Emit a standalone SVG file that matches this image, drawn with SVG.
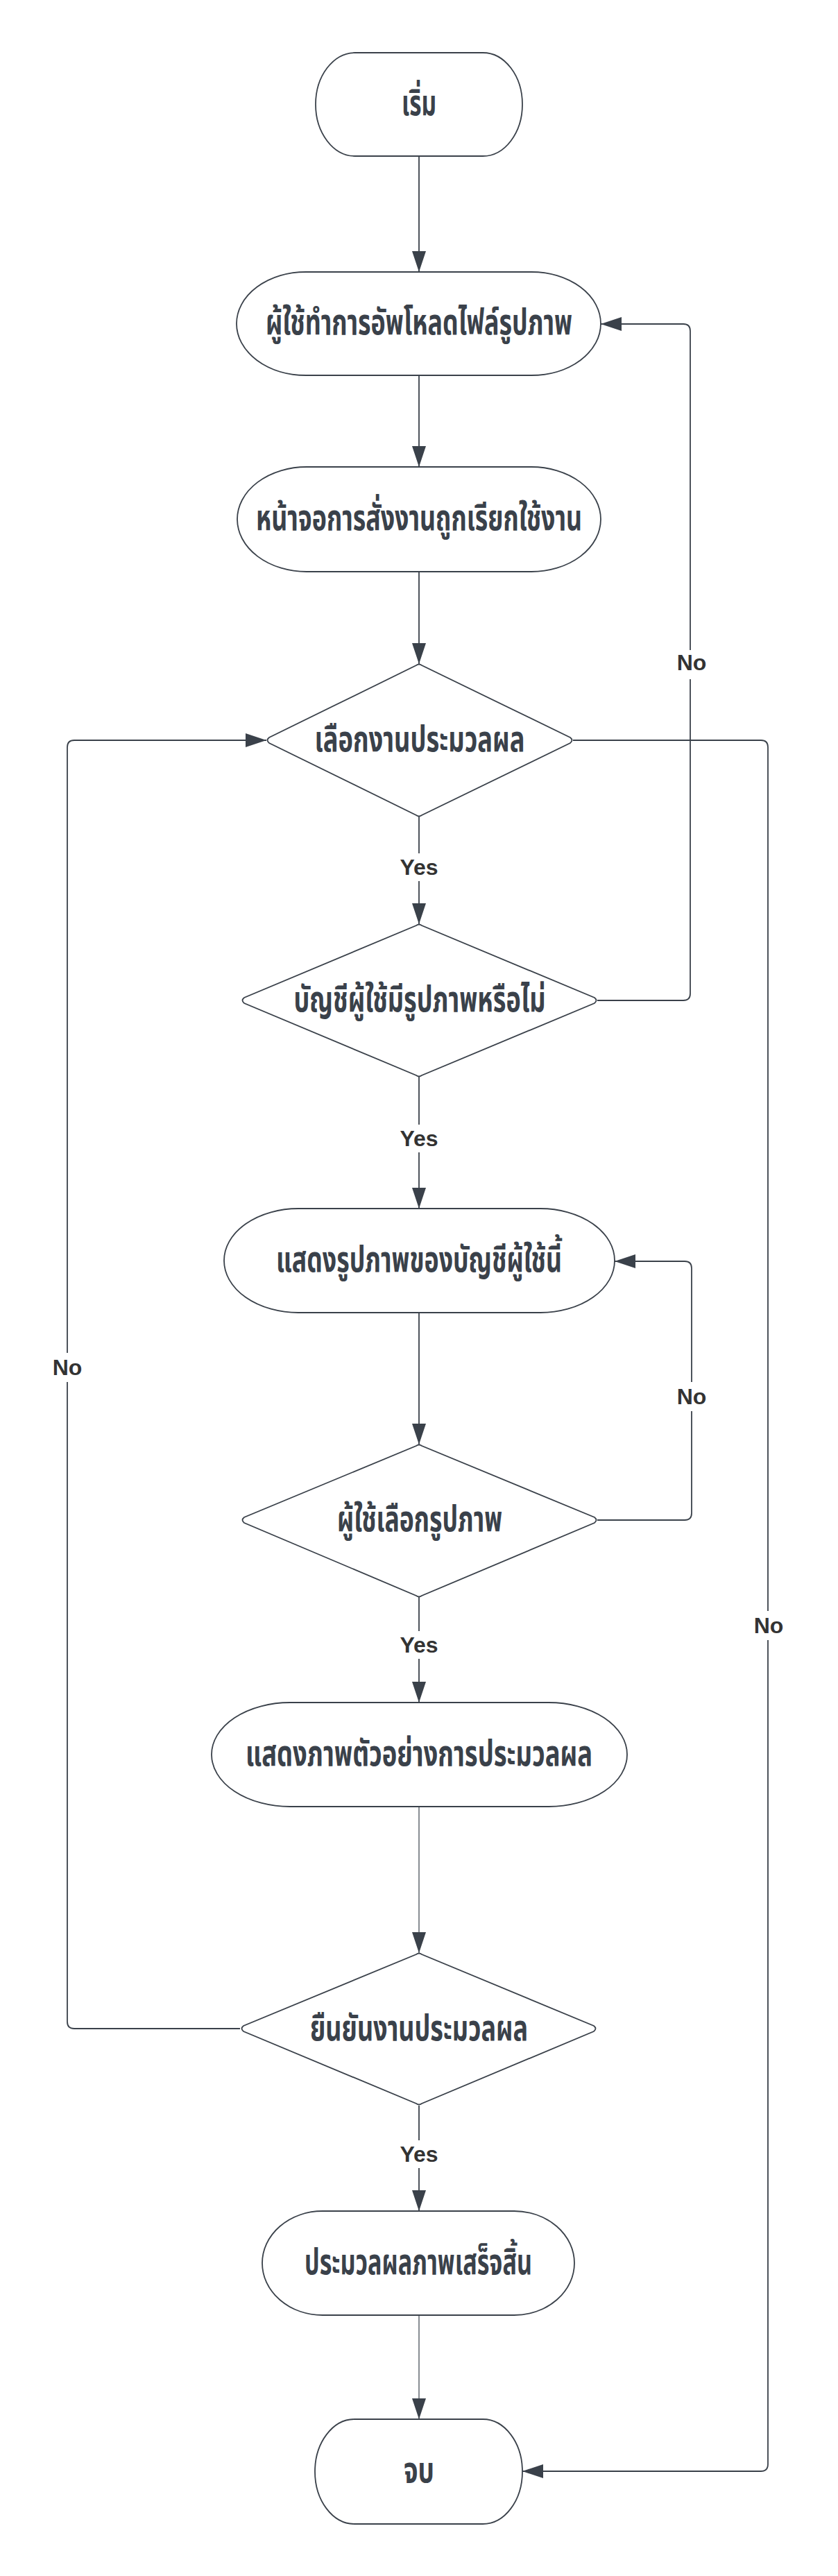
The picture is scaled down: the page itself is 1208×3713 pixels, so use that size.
<svg xmlns="http://www.w3.org/2000/svg" width="1208" height="3713" viewBox="0 0 1208 3713">
<style>
.n{fill:#ffffff;stroke:#3a414a;stroke-width:1.8}
.t{font-family:'Noto Sans Thai','Noto Sans Thai UI','Noto Sans',sans-serif;font-weight:700;font-size:52px;fill:#3a414a;text-anchor:middle}
.c{fill:none;stroke:#3a414a;stroke-width:1.8}
.thin{stroke-width:1.2}
.lb{fill:#ffffff;stroke:none}
.l{font-family:'Liberation Sans',Arial,sans-serif;font-weight:700;font-size:32px;fill:#333333;text-anchor:middle}
</style>
<defs>
<marker id="ah" markerUnits="userSpaceOnUse" markerWidth="30" markerHeight="20" refX="30" refY="10" orient="auto">
<path d="M0,0 L30,10 L0,20 Z" fill="#3a414a"/>
</marker>
</defs>
<rect width="1208" height="3713" fill="#ffffff"/>
<g id="connectors">
<path class="c" d="M604,225 V392" marker-end="url(#ah)"/>
<path class="c" d="M604,541 V673" marker-end="url(#ah)"/>
<path class="c" d="M604,824 V957" marker-end="url(#ah)"/>
<path class="c" d="M604,1177 V1332" marker-end="url(#ah)"/>
<path class="c" d="M826,1067 H1097 Q1107,1067 1107,1077 V3552 Q1107,3562 1097,3562 H753" marker-end="url(#ah)"/>
<path class="c" d="M861,1442 H985 Q995,1442 995,1432 V477 Q995,467 985,467 H866" marker-end="url(#ah)"/>
<path class="c" d="M604,1552 V1742" marker-end="url(#ah)"/>
<path class="c" d="M604,1892 V2082" marker-end="url(#ah)"/>
<path class="c" d="M861,2191 H987 Q997,2191 997,2181 V1828 Q997,1818 987,1818 H886" marker-end="url(#ah)"/>
<path class="c" d="M604,2302 V2454" marker-end="url(#ah)"/>
<path class="c thin" d="M604,2604 V2815" marker-end="url(#ah)"/>
<path class="c" d="M346,2924 H107 Q97,2924 97,2914 V1077 Q97,1067 107,1067 H384" marker-end="url(#ah)"/>
<path class="c" d="M604,3035 V3187" marker-end="url(#ah)"/>
<path class="c thin" d="M604,3337 V3487" marker-end="url(#ah)"/>
<rect class="lb" x="572" y="1230" width="64" height="40"/>
<text class="l" x="604" y="1261">Yes</text>
<rect class="lb" x="572" y="1621" width="64" height="40"/>
<text class="l" x="604" y="1652">Yes</text>
<rect class="lb" x="572" y="2351" width="64" height="40"/>
<text class="l" x="604" y="2382">Yes</text>
<rect class="lb" x="572" y="3085" width="64" height="40"/>
<text class="l" x="604" y="3116">Yes</text>
<rect class="lb" x="972" y="937" width="50" height="42"/>
<text class="l" x="997" y="966">No</text>
<rect class="lb" x="972" y="1992" width="50" height="42"/>
<text class="l" x="997" y="2024">No</text>
<rect class="lb" x="72" y="1950" width="50" height="42"/>
<text class="l" x="97" y="1982">No</text>
<rect class="lb" x="1083" y="2322" width="50" height="42"/>
<text class="l" x="1108" y="2354">No</text>
</g>
<g id="start">
<rect class="n" x="455" y="76" width="298" height="149" rx="57" ry="74.5"/>
<text class="t" x="604" y="166" textLength="50" lengthAdjust="spacingAndGlyphs">เริ่ม</text>
</g>
<g id="upload">
<rect class="n" x="341" y="392" width="525" height="149" rx="100" ry="74.5"/>
<text class="t" x="604" y="482" textLength="442" lengthAdjust="spacingAndGlyphs">ผู้ใช้ทำการอัพโหลดไฟล์รูปภาพ</text>
</g>
<g id="screen">
<rect class="n" x="342" y="673" width="524" height="151" rx="100" ry="75.5"/>
<text class="t" x="604" y="764" textLength="470" lengthAdjust="spacingAndGlyphs">หน้าจอการสั่งงานถูกเรียกใช้งาน</text>
</g>
<g id="select-job">
<path class="n" d="M600,959 Q604,956 608,959 L822,1063 Q827,1067 822,1071 L608,1175 Q604,1178 600,1175 L388,1071 Q383,1067 388,1063 Z"/>
<text class="t" x="605" y="1083" textLength="303" lengthAdjust="spacingAndGlyphs">เลือกงานประมวลผล</text>
</g>
<g id="has-image">
<path class="n" d="M600,1334 Q604,1331 608,1334 L857,1438 Q862,1442 857,1446 L608,1550 Q604,1553 600,1550 L352,1446 Q347,1442 352,1438 Z"/>
<text class="t" x="605" y="1458" textLength="363" lengthAdjust="spacingAndGlyphs">บัญชีผู้ใช้มีรูปภาพหรือไม่</text>
</g>
<g id="show-images">
<rect class="n" x="323" y="1742" width="563" height="150" rx="107" ry="75"/>
<text class="t" x="604" y="1833" textLength="412" lengthAdjust="spacingAndGlyphs">แสดงรูปภาพของบัญชีผู้ใช้นี้</text>
</g>
<g id="user-picks">
<path class="n" d="M600,2084 Q604,2081 608,2084 L857,2187 Q862,2191 857,2195 L608,2300 Q604,2303 600,2300 L352,2195 Q347,2191 352,2187 Z"/>
<text class="t" x="605" y="2207" textLength="238" lengthAdjust="spacingAndGlyphs">ผู้ใช้เลือกรูปภาพ</text>
</g>
<g id="preview">
<rect class="n" x="305" y="2454" width="599" height="150" rx="113" ry="75"/>
<text class="t" x="604" y="2545" textLength="500" lengthAdjust="spacingAndGlyphs">แสดงภาพตัวอย่างการประมวลผล</text>
</g>
<g id="confirm">
<path class="n" d="M600,2817 Q604,2814 608,2817 L856,2920 Q861,2924 856,2928 L608,3032 Q604,3035 600,3032 L351,2928 Q346,2924 351,2920 Z"/>
<text class="t" x="604" y="2941" textLength="314" lengthAdjust="spacingAndGlyphs">ยืนยันงานประมวลผล</text>
</g>
<g id="done">
<rect class="n" x="378" y="3187" width="450" height="150" rx="87" ry="75"/>
<text class="t" x="603" y="3278" textLength="328" lengthAdjust="spacingAndGlyphs">ประมวลผลภาพเสร็จสิ้น</text>
</g>
<g id="end">
<rect class="n" x="454" y="3487" width="299" height="151" rx="57" ry="75.5"/>
<text class="t" x="604" y="3578" textLength="44" lengthAdjust="spacingAndGlyphs">จบ</text>
</g>
</svg>
